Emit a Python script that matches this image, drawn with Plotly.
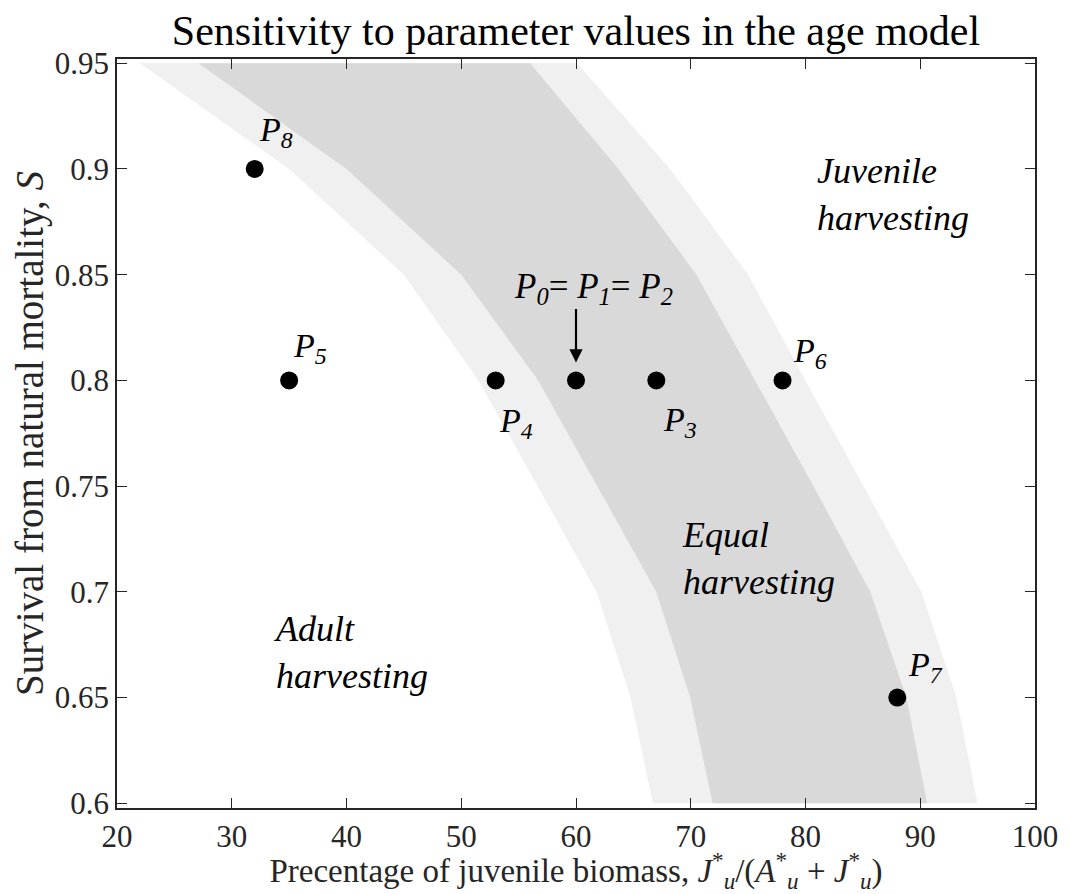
import plotly.graph_objects as go

# band boundaries, read at S = 0.60 ... 0.95
band_s = [0.60, 0.65, 0.70, 0.75, 0.80, 0.85, 0.90, 0.95]
outer_left = [66.7, 64.75, 61.8, 56.65, 51.5, 45.0, 35.0, 22.0]
inner_left = [71.9, 69.95, 67.0, 61.85, 56.7, 50.0, 40.0, 27.1]
inner_right = [90.6, 88.8, 85.65, 80.7, 75.6, 70.5, 63.7, 56.0]
outer_right = [95.0, 93.15, 90.1, 85.05, 80.0, 75.0, 68.2, 60.1]

# parameter sets
pt_x = [32, 35, 53, 60, 67, 78, 88]
pt_y = [0.90, 0.80, 0.80, 0.80, 0.80, 0.80, 0.65]

# point labels: subscript, x, y (left / middle anchor)
lab_names = ['8', '5', '4', '3', '6', '7']
lab_x = [32.2, 35.2, 53.1, 67.4, 78.75, 88.8]
lab_y = [0.9175, 0.8155, 0.7800, 0.7805, 0.8130, 0.6645]

FONT = 'Liberation Serif'

fig = go.Figure()

# light band
fig.add_trace(go.Scatter(
    x=outer_left + outer_right[::-1],
    y=band_s + band_s[::-1],
    mode='lines', fill='toself',
    fillcolor='rgb(240,240,240)',
    line=dict(width=0, color='rgb(240,240,240)'),
    hoverinfo='skip', showlegend=False
))

# dark band
fig.add_trace(go.Scatter(
    x=inner_left + inner_right[::-1],
    y=band_s + band_s[::-1],
    mode='lines', fill='toself',
    fillcolor='rgb(217,217,217)',
    line=dict(width=0, color='rgb(217,217,217)'),
    hoverinfo='skip', showlegend=False
))

fig.add_trace(go.Scatter(
    x=pt_x, y=pt_y, mode='markers',
    marker=dict(color='black', size=18),
    showlegend=False
))

ann = []
for n, x, y in zip(lab_names, lab_x, lab_y):
    ann.append(dict(
        x=x, y=y, xref='x', yref='y', xanchor='left', yanchor='middle',
        text=f'<i>P</i><sub><i>{n}</i></sub>', showarrow=False,
        font=dict(family=FONT, size=34, color='black')
    ))

ann.append(dict(
    x=68.6, y=0.8435, xref='x', yref='y', xanchor='right', yanchor='middle',
    text='<i>P</i><sub><i>0</i></sub>= <i>P</i><sub><i>1</i></sub>= <i>P</i><sub><i>2</i></sub>',
    showarrow=False, font=dict(family=FONT, size=35, color='black')
))

# arrow to P0
ann.append(dict(
    x=60, y=0.8085, ax=60, ay=0.8345, xref='x', yref='y', axref='x', ayref='y',
    text='', showarrow=True, arrowhead=2, arrowsize=1.2, arrowwidth=2.2,
    arrowcolor='black'
))

regions = [('Juvenile<br>harvesting', 80.8, 0.888),
           ('Equal<br>harvesting', 69.1, 0.716),
           ('Adult<br>harvesting', 33.5, 0.6715)]
for t, x, y in regions:
    ann.append(dict(
        x=x, y=y, xref='x', yref='y', xanchor='left', yanchor='middle',
        align='left', text=f'<i>{t}</i>', showarrow=False,
        font=dict(family=FONT, size=36, color='black')
    ))

# page body has an 8px margin, so the figure is 8px smaller and shifted
fig.update_layout(
    width=1062, height=886,
    margin=dict(l=109, r=27, t=51, b=86),
    plot_bgcolor='white', paper_bgcolor='white',
    title=dict(
        text='Sensitivity to parameter values in the age model',
        x=0.5, xref='paper', y=0.975, yref='container', yanchor='middle',
        font=dict(family=FONT, size=42, color='black')
    ),
    annotations=ann,
    showlegend=False
)

axis_style = dict(
    showline=True, linecolor='#262626', linewidth=1.5, mirror='ticks',
    ticks='inside', ticklen=10, tickwidth=1, tickcolor='#262626',
    showgrid=False, zeroline=False, ticklabeloverflow='allow',
    tickfont=dict(family=FONT, size=31, color='#262626')
)

fig.update_xaxes(
    range=[20, 100], tickvals=[20, 30, 40, 50, 60, 70, 80, 90, 100],
    title=dict(
        text='Precentage of juvenile biomass, <i>J</i><sup>*</sup><sub><i>u</i></sub>'
             '/(<i>A</i><sup>*</sup><sub><i>u</i></sub> + <i>J</i><sup>*</sup><sub><i>u</i></sub>)',
        font=dict(family=FONT, size=33, color='#262626'), standoff=0
    ),
    **axis_style
)
fig.update_yaxes(
    range=[0.5978, 0.952],
    tickvals=[0.6, 0.65, 0.7, 0.75, 0.8, 0.85, 0.9, 0.95],
    ticktext=['0.6', '0.65', '0.7', '0.75', '0.8', '0.85', '0.9', '0.95'],
    title=dict(
        text='Survival from natural mortality, <i>S</i>',
        font=dict(family=FONT, size=39, color='#262626'), standoff=2
    ),
    **axis_style
)

fig.write_html('out.html')
